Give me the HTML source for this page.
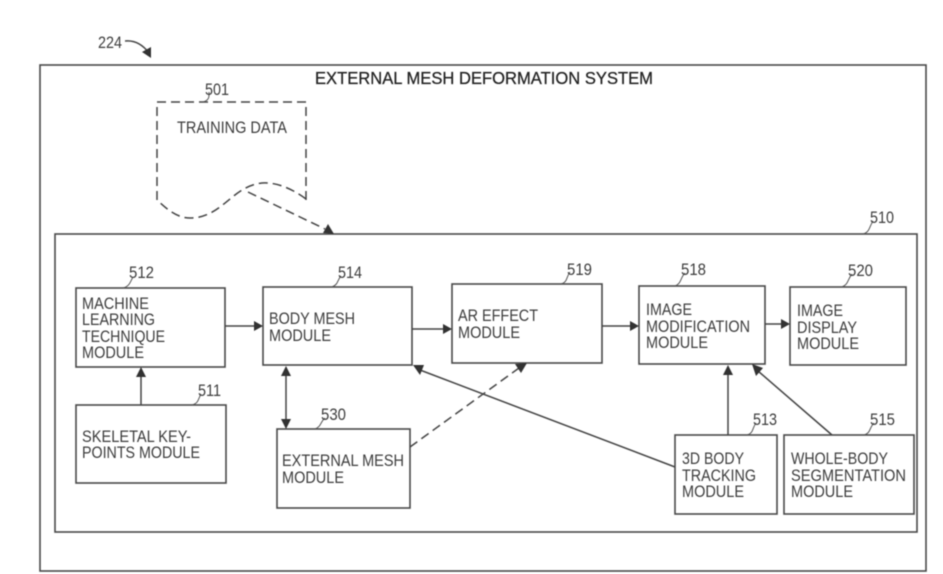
<!DOCTYPE html>
<html>
<head>
<meta charset="utf-8">
<style>
html,body{margin:0;padding:0;background:#fff;width:943px;height:574px;overflow:hidden}
svg{display:block}
text{font-family:"Liberation Sans",sans-serif;font-size:17px;fill:#3c3c3c}
text.t{font-size:17.5px;fill:#222;stroke:#222;stroke-width:.25}
.b{fill:none;stroke:#4a4a4a;stroke-width:1.6}
.l{fill:none;stroke:#444;stroke-width:1.5}
.d{fill:none;stroke:#444;stroke-width:1.5;stroke-dasharray:9 5}
.a{fill:#333;stroke:none}
.s{fill:none;stroke:#555;stroke-width:1}
</style>
</head>
<body>
<svg width="943" height="574" viewBox="0 0 943 574" xmlns="http://www.w3.org/2000/svg">
<defs><filter id="f" x="-2%" y="-2%" width="104%" height="104%"><feGaussianBlur stdDeviation="0.5"/></filter></defs>
<rect width="943" height="574" fill="#fff"/>
<g filter="url(#f)">
<!-- containers -->
<rect class="b" x="40" y="65" width="886" height="506"/>
<rect class="b" x="55" y="234" width="862" height="298"/>
<!-- document -->
<path class="d" d="M157 200 L157 102 L306 102 L306 201"/>
<path class="d" d="M306 199 C290 187 274 182 262 183 C232 186 222 218 190 218 C176 218 166 208 157 200"/>
<!-- boxes -->
<rect class="b" x="76" y="288" width="149" height="79"/>
<rect class="b" x="263" y="287" width="149" height="78"/>
<rect class="b" x="452" y="284" width="150" height="79"/>
<rect class="b" x="639" y="286" width="126" height="78"/>
<rect class="b" x="790" y="287" width="116" height="78"/>
<rect class="b" x="76" y="405" width="150" height="78"/>
<rect class="b" x="277" y="429" width="133" height="79"/>
<rect class="b" x="675" y="435" width="102" height="79"/>
<rect class="b" x="784" y="435" width="130" height="79"/>
<!-- connectors -->
<line class="l" x1="225" y1="326" x2="256" y2="326"/>
<polygon class="a" points="263,326 254,321 254,331"/>
<line class="l" x1="412" y1="329" x2="445" y2="329"/>
<polygon class="a" points="452,329 443,324 443,334"/>
<line class="l" x1="602" y1="326" x2="632" y2="326"/>
<polygon class="a" points="639,326 630,321 630,331"/>
<line class="l" x1="765" y1="324" x2="783" y2="324"/>
<polygon class="a" points="790,324 781,319 781,329"/>
<line class="l" x1="141" y1="405" x2="141" y2="375"/>
<polygon class="a" points="141,367 136,377 146,377"/>
<line class="l" x1="286" y1="373" x2="286" y2="421"/>
<polygon class="a" points="286,366 281,376 291,376"/>
<polygon class="a" points="286,429 281,419 291,419"/>
<line class="l" x1="675" y1="467" x2="420" y2="370"/>
<polygon class="a" points="413,365 424,365 420,375"/>
<line class="l" x1="728" y1="435" x2="728" y2="372"/>
<polygon class="a" points="728,365 723,375 733,375"/>
<line class="l" x1="832" y1="435" x2="758" y2="371"/>
<polygon class="a" points="752,364 763,368 756,376"/>
<!-- dashed arrows -->
<path class="d" d="M410 447 L519 368"/>
<polygon class="a" points="527,363 515,364 521,373"/>
<path class="d" d="M248 192 L325 229"/>
<polygon class="a" points="334,234 323,233 328,224"/>
<!-- 224 arrow -->
<path class="l" d="M125 41 C135 40 143 45 149 53"/>
<polygon class="a" points="151,58 142,52 151,47"/>
<!-- leaders -->
<path class="s" d="M203 102 C210 100 209 96 209 92"/>
<path class="s" d="M123 288 C130 286 130 282 133 277"/>
<path class="s" d="M332 287 C339 284 337 280 341 276"/>
<path class="s" d="M192 405 C199 403 198 399 201 394"/>
<path class="s" d="M315 429 C322 426 320 422 325 418"/>
<path class="s" d="M863 234 C870 232 869 227 873 221"/>
<path class="s" d="M561 284 C568 282 566 277 570 272"/>
<path class="s" d="M675 286 C682 283 680 278 685 273"/>
<path class="s" d="M842 287 C849 284 847 280 852 274"/>
<path class="s" d="M747 435 C754 433 752 428 756 423"/>
<path class="s" d="M864 435 C871 433 869 428 874 423"/>
<!-- labels -->
<text class="t" x="315" y="84" textLength="338" lengthAdjust="spacingAndGlyphs">EXTERNAL MESH DEFORMATION SYSTEM</text>
<text x="177" y="133" textLength="110" lengthAdjust="spacingAndGlyphs">TRAINING DATA</text>
<text x="82" y="309" textLength="67" lengthAdjust="spacingAndGlyphs">MACHINE</text>
<text x="82" y="325" textLength="73" lengthAdjust="spacingAndGlyphs">LEARNING</text>
<text x="82" y="342" textLength="83" lengthAdjust="spacingAndGlyphs">TECHNIQUE</text>
<text x="82" y="358" textLength="62" lengthAdjust="spacingAndGlyphs">MODULE</text>
<text x="269" y="324" textLength="86" lengthAdjust="spacingAndGlyphs">BODY MESH</text>
<text x="269" y="341" textLength="62" lengthAdjust="spacingAndGlyphs">MODULE</text>
<text x="458" y="321" textLength="80" lengthAdjust="spacingAndGlyphs">AR EFFECT</text>
<text x="458" y="338" textLength="62" lengthAdjust="spacingAndGlyphs">MODULE</text>
<text x="646" y="315" textLength="46" lengthAdjust="spacingAndGlyphs">IMAGE</text>
<text x="646" y="332" textLength="104" lengthAdjust="spacingAndGlyphs">MODIFICATION</text>
<text x="646" y="348" textLength="62" lengthAdjust="spacingAndGlyphs">MODULE</text>
<text x="797" y="316" textLength="46" lengthAdjust="spacingAndGlyphs">IMAGE</text>
<text x="797" y="333" textLength="60" lengthAdjust="spacingAndGlyphs">DISPLAY</text>
<text x="797" y="349" textLength="62" lengthAdjust="spacingAndGlyphs">MODULE</text>
<text x="82" y="442" textLength="109" lengthAdjust="spacingAndGlyphs">SKELETAL KEY-</text>
<text x="82" y="458" textLength="118" lengthAdjust="spacingAndGlyphs">POINTS MODULE</text>
<text x="282" y="466" textLength="122" lengthAdjust="spacingAndGlyphs">EXTERNAL MESH</text>
<text x="282" y="483" textLength="62" lengthAdjust="spacingAndGlyphs">MODULE</text>
<text x="682" y="464" textLength="62" lengthAdjust="spacingAndGlyphs">3D BODY</text>
<text x="682" y="481" textLength="74" lengthAdjust="spacingAndGlyphs">TRACKING</text>
<text x="682" y="497" textLength="62" lengthAdjust="spacingAndGlyphs">MODULE</text>
<text x="791" y="464" textLength="97" lengthAdjust="spacingAndGlyphs">WHOLE-BODY</text>
<text x="791" y="481" textLength="115" lengthAdjust="spacingAndGlyphs">SEGMENTATION</text>
<text x="791" y="497" textLength="62" lengthAdjust="spacingAndGlyphs">MODULE</text>
<!-- numbers -->
<text x="98" y="48" textLength="24" lengthAdjust="spacingAndGlyphs">224</text>
<text x="205" y="95" textLength="24" lengthAdjust="spacingAndGlyphs">501</text>
<text x="129" y="278" textLength="25" lengthAdjust="spacingAndGlyphs">512</text>
<text x="338" y="278" textLength="24" lengthAdjust="spacingAndGlyphs">514</text>
<text x="198" y="396" textLength="23" lengthAdjust="spacingAndGlyphs">511</text>
<text x="321" y="420" textLength="25" lengthAdjust="spacingAndGlyphs">530</text>
<text x="870" y="223" textLength="24" lengthAdjust="spacingAndGlyphs">510</text>
<text x="567" y="275" textLength="25" lengthAdjust="spacingAndGlyphs">519</text>
<text x="681" y="275" textLength="25" lengthAdjust="spacingAndGlyphs">518</text>
<text x="848" y="276" textLength="25" lengthAdjust="spacingAndGlyphs">520</text>
<text x="753" y="425" textLength="24" lengthAdjust="spacingAndGlyphs">513</text>
<text x="870" y="425" textLength="25" lengthAdjust="spacingAndGlyphs">515</text>
</g>
</svg>
</body>
</html>
